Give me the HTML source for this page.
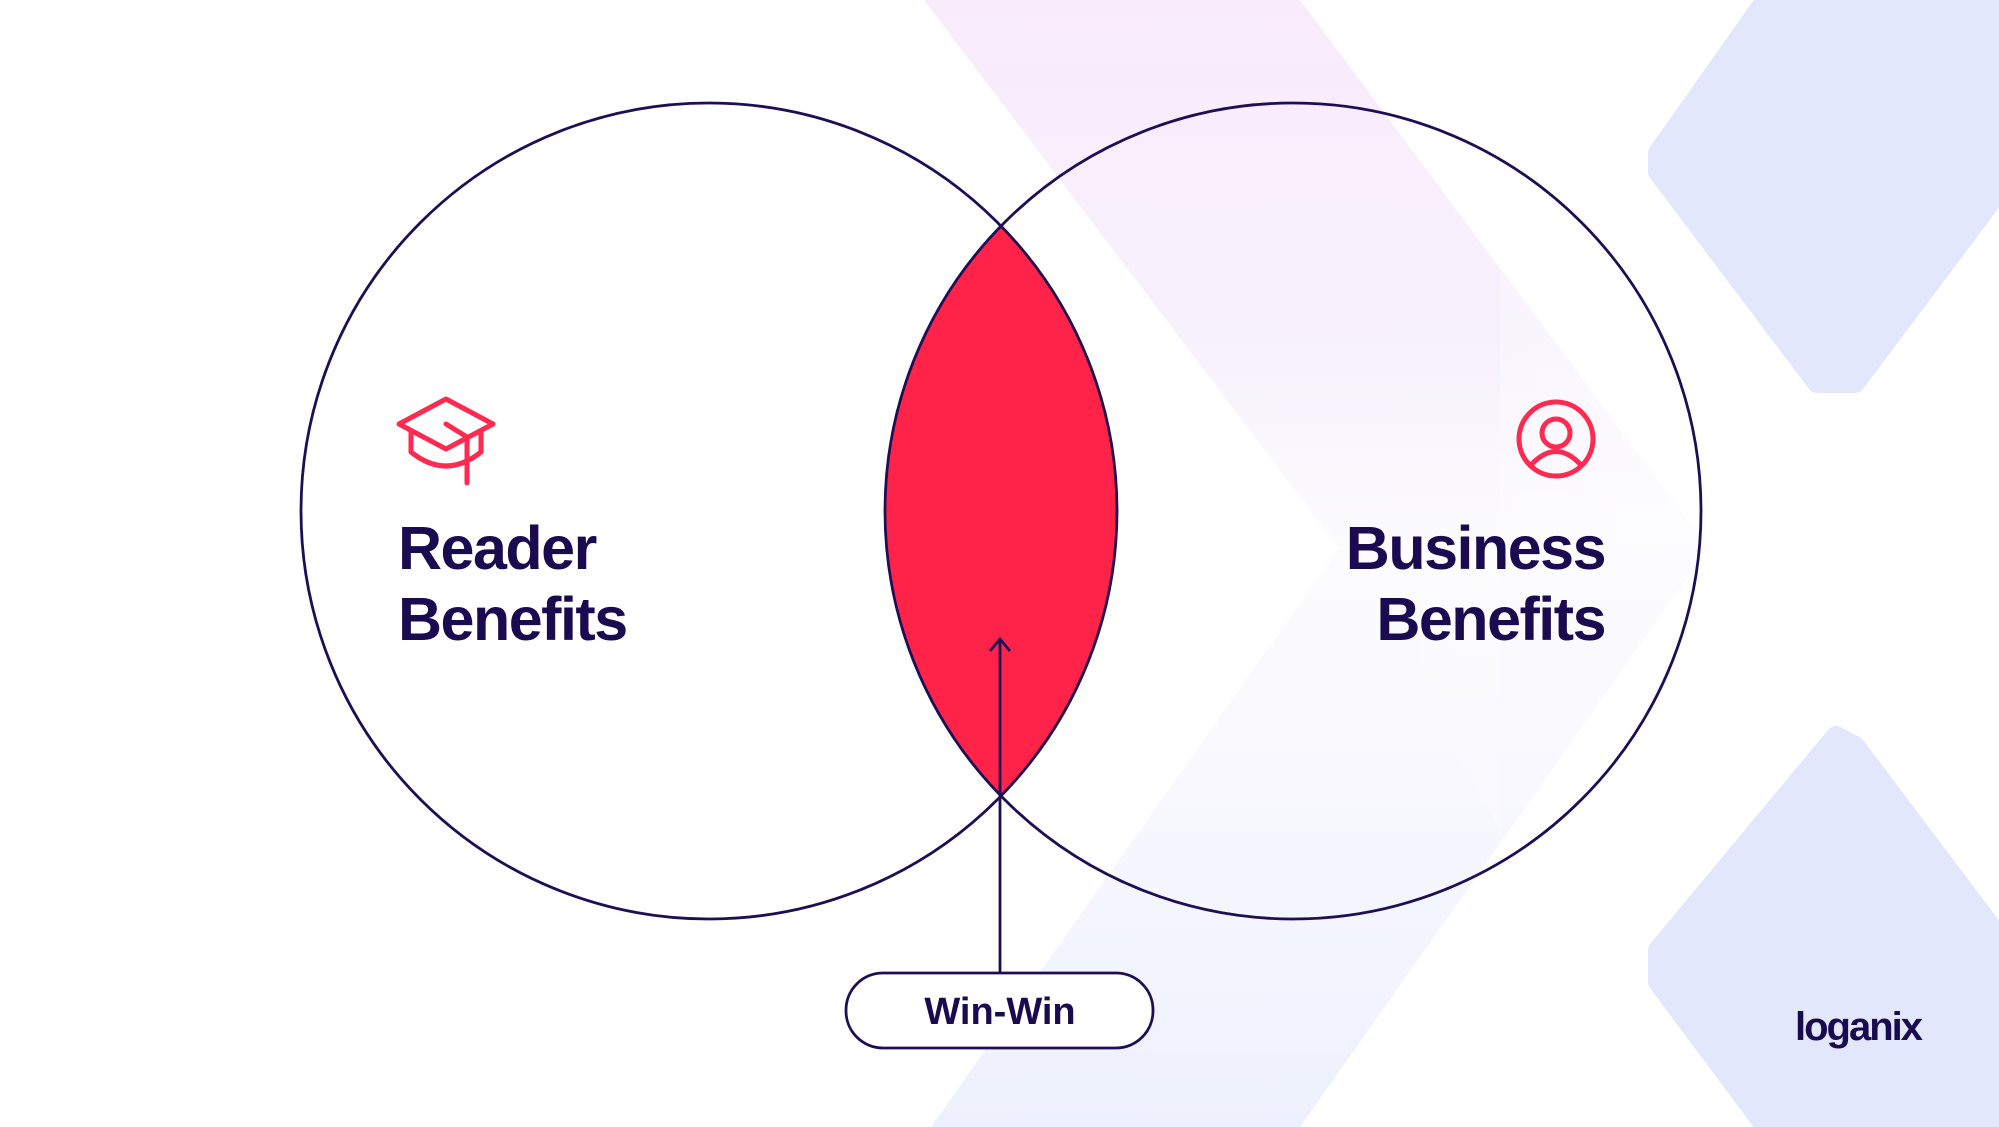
<!DOCTYPE html>
<html><head><meta charset="utf-8"><style>
html,body{margin:0;padding:0;background:#fff;}
svg{display:block;}
text{font-family:"Liberation Sans",sans-serif;font-weight:bold;fill:#1a0a4f;}
</style></head><body>
<svg width="1999" height="1127" viewBox="0 0 1999 1127" xmlns="http://www.w3.org/2000/svg">
<defs>
<linearGradient id="band" x1="0" y1="0" x2="0" y2="1">
<stop offset="0" stop-color="#f9ebfc"/>
<stop offset="0.3" stop-color="#f7f1fc"/>
<stop offset="0.5" stop-color="#fcfcfe"/>
<stop offset="0.7" stop-color="#f8f8fe"/>
<stop offset="1" stop-color="#edf1fd"/>
</linearGradient>
<linearGradient id="fadeR" x1="0" y1="0" x2="1" y2="0">
<stop offset="0" stop-color="#fff" stop-opacity="0"/>
<stop offset="1" stop-color="#fff" stop-opacity="0.7"/>
</linearGradient>
</defs>
<rect width="1999" height="1127" fill="#fff"/>
<polygon points="924,0 1300,0 1708,548 1300,1127 931,1127 1339,548" fill="url(#band)"/>
<polygon points="1339,548 1708,548 1500,270 1500,830" fill="url(#fadeR)" opacity="0.8"/>
<polygon points="1766,0 1999,0 1999,191 1855,383 1817,383 1658,172 1658,153" fill="#e3e7fb" stroke="#e3e7fb" stroke-width="20" stroke-linejoin="round"/>
<polygon points="1836,736 1658,950 1658,982 1766,1127 1999,1127 1999,937 1855,746" fill="#e3e7fb" stroke="#e3e7fb" stroke-width="20" stroke-linejoin="round"/>
<path d="M1001 226 A408 408 0 0 1 1001 796 A408 408 0 0 1 1001 226 Z" fill="#ff2249"/>
<circle cx="709" cy="511" r="408" fill="none" stroke="#1e0f55" stroke-width="2.8"/>
<circle cx="1293" cy="511" r="408" fill="none" stroke="#1e0f55" stroke-width="2.8"/>
<g fill="none" stroke="#ff2a50" stroke-width="5" stroke-linecap="round" stroke-linejoin="round">
<polygon points="446,399 493,424 446,449 399,424"/>
<path d="M411 431 V452 Q446 480 481 452 V431"/>
<path d="M446 424 L467 437 V483"/>
</g>
<g fill="none" stroke="#ff2a50" stroke-width="5">
<circle cx="1556" cy="439" r="37"/>
<circle cx="1556" cy="433" r="14"/>
<path d="M1531 465 Q1556 438 1581 465"/>
</g>
<g style="letter-spacing:-1.5px">
<text x="398" y="569" font-size="61">Reader</text>
<text x="398" y="640" font-size="61">Benefits</text>
<text x="1605" y="569" font-size="61" text-anchor="end">Business</text>
<text x="1605" y="640" font-size="61" text-anchor="end">Benefits</text>
</g>
<line x1="1000" y1="972" x2="1000" y2="640" stroke="#1e0f55" stroke-width="2.8"/>
<path d="M990 651 L1000 639 L1010 651" fill="none" stroke="#1e0f55" stroke-width="2.8"/>
<rect x="846" y="973" width="307" height="75" rx="37" fill="#fff" stroke="#1e0f55" stroke-width="2.8"/>
<text x="1000" y="1024" font-size="38" text-anchor="middle">Win-Win</text>
<text x="1795" y="1040" font-size="40" style="font-weight:bold;letter-spacing:-2px">loganix</text>
</svg>
</body></html>
